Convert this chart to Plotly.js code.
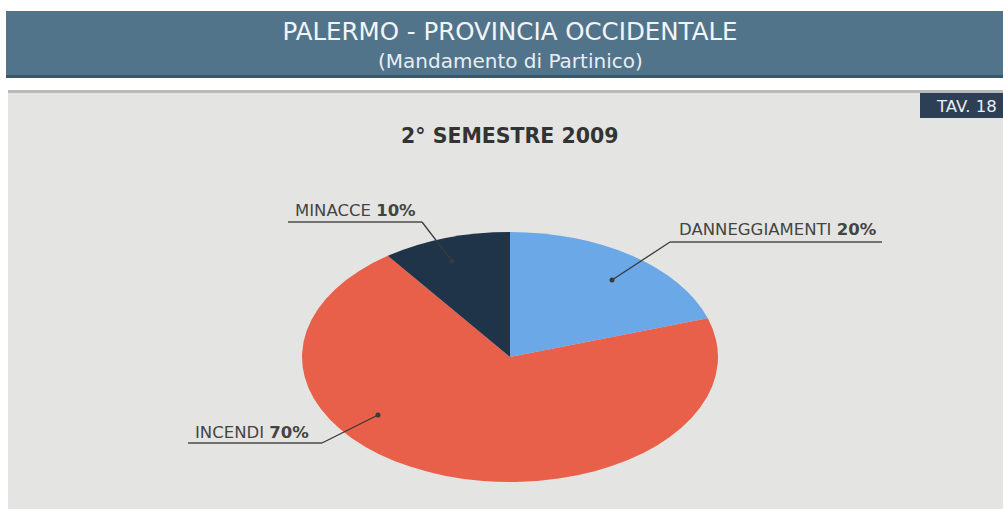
<!DOCTYPE html>
<html>
<head>
<meta charset="utf-8">
<script src="https://cdn.plot.ly/plotly-3.0.1.min.js"></script>
<style>
html,body{margin:0;padding:0;background:#ffffff;}
#chart{width:1003px;height:509px;}
</style>
</head>
<body>
<div id="chart"></div>
<script>
// ---- data ----
const categories = ["DANNEGGIAMENTI", "INCENDI", "MINACCE"];
const values = [20, 70, 10];
const sliceColors = ["#6ba8e8", "#e8604a", "#1f3448"];
const chartTitle = "PALERMO - PROVINCIA OCCIDENTALE";
const chartSubtitle = "(Mandamento di Partinico)";
const periodTitle = "2° SEMESTRE 2009";
const tableTag = "TAV. 18";

// ---- geometry helpers (pixel -> paper) ----
const W = 1003, H = 509;
const px = x => x / W;
const py = y => 1 - y / H;
const CX = 510, CY = 357, RY = 125, RX = 208;
const FONT = "DejaVu Sans, Verdana, sans-serif";

const total = values.reduce((a, b) => a + b, 0);
const labelText = categories.map((c, i) => c + " <b>" + Math.round(values[i] / total * 100) + "%</b>");

const trace = {
  type: "pie",
  labels: categories,
  values: values,
  sort: false,
  direction: "clockwise",
  rotation: 0,
  marker: {colors: sliceColors, line: {width: 0}},
  textinfo: "none",
  hoverinfo: "label+percent",
  showlegend: false,
  domain: {x: [px(CX - RY), px(CX + RY)], y: [py(CY + RY), py(CY - RY)]}
};

// label positions (text anchor point, underline span, dot)
const leaders = [
  {text: labelText[0], tx: 778, ty: 229, ux0: 670, ux1: 882, uy: 242, dx: 612, dy: 280},
  {text: labelText[1], tx: 252, ty: 432, ux0: 188, ux1: 322, uy: 443, dx: 378, dy: 415},
  {text: labelText[2], tx: 355, ty: 210, ux0: 288, ux1: 422, uy: 222, dx: 452, dy: 261}
];

const shapes = [
  // header band
  {type: "rect", xref: "paper", yref: "paper", x0: px(6), x1: px(1003), y0: py(78), y1: py(11),
   fillcolor: "#52748b", line: {width: 0}, layer: "below"},
  {type: "rect", xref: "paper", yref: "paper", x0: px(6), x1: px(1003), y0: py(78), y1: py(75),
   fillcolor: "#3a566a", line: {width: 0}, layer: "below"},
  // grey panel
  {type: "rect", xref: "paper", yref: "paper", x0: px(8), x1: px(1003), y0: py(509), y1: py(90),
   fillcolor: "#e4e5e2", line: {width: 0}, layer: "below"},
  {type: "rect", xref: "paper", yref: "paper", x0: px(8), x1: px(1003), y0: py(93), y1: py(90),
   fillcolor: "#b9bab8", line: {width: 0}, layer: "below"},
  // tav box
  {type: "rect", xref: "paper", yref: "paper", x0: px(920), x1: px(1003), y0: py(118), y1: py(93),
   fillcolor: "#2c3f55", line: {width: 0}, layer: "below"}
];
leaders.forEach(l => {
  const startX = (l.dx > l.ux1) ? l.ux1 : l.ux0;
  shapes.push({type: "path", xref: "paper", yref: "paper",
    path: "M" + px(l.ux0) + "," + py(l.uy) + " L" + px(l.ux1) + "," + py(l.uy),
    line: {color: "#4a4a4a", width: 1.5}});
  shapes.push({type: "path", xref: "paper", yref: "paper",
    path: "M" + px(startX) + "," + py(l.uy) + " L" + px(l.dx) + "," + py(l.dy),
    line: {color: "#3a3a3a", width: 1.3}});
  shapes.push({type: "circle", xref: "paper", yref: "paper",
    x0: px(l.dx - 2.5), x1: px(l.dx + 2.5), y0: py(l.dy + 2.5), y1: py(l.dy - 2.5),
    fillcolor: "#3a3a3a", line: {width: 0}});
});

const annotations = [
  {text: chartSubtitle, xref: "paper", yref: "paper", x: px(510), y: py(61), showarrow: false,
   xanchor: "center", yanchor: "middle", font: {family: FONT, size: 20, color: "#e8eef3"}},
  {text: periodTitle, xref: "paper", yref: "paper", x: px(510), y: py(136), showarrow: false,
   xanchor: "center", yanchor: "middle", font: {family: FONT, size: 20.5, color: "#333333", weight: "bold"}},
  {text: tableTag, xref: "paper", yref: "paper", x: px(966), y: py(106), showarrow: false,
   xanchor: "center", yanchor: "middle", font: {family: FONT, size: 16.5, color: "#e8eef3"}}
];
leaders.forEach(l => annotations.push({
  text: l.text, xref: "paper", yref: "paper", x: px(l.tx), y: py(l.ty), showarrow: false,
  xanchor: "center", yanchor: "middle",
  font: {family: FONT, size: 16.5, color: "#444444"}
}));

const layout = {
  width: W, height: H,
  margin: {l: 0, r: 0, t: 0, b: 0},
  paper_bgcolor: "#ffffff",
  plot_bgcolor: "rgba(0,0,0,0)",
  title: {text: chartTitle, x: px(510), xanchor: "center", y: py(31), yanchor: "middle",
          xref: "paper", yref: "paper",
          font: {family: FONT, size: 24.5, color: "#f2f5f8"}},
  shapes: shapes,
  annotations: annotations
};

Plotly.newPlot("chart", [trace], layout, {displayModeBar: false, staticPlot: true}).then(gd => {
  // stretch the round pie into the flattened ellipse of the original
  const layer = gd.querySelector(".pielayer");
  if (layer) {
    const s = RX / RY;
    layer.setAttribute("transform", "translate(" + CX + "," + CY + ") scale(" + s + ",1) translate(" + (-CX) + "," + (-CY) + ")");
  }
});
</script>
</body>
</html>
